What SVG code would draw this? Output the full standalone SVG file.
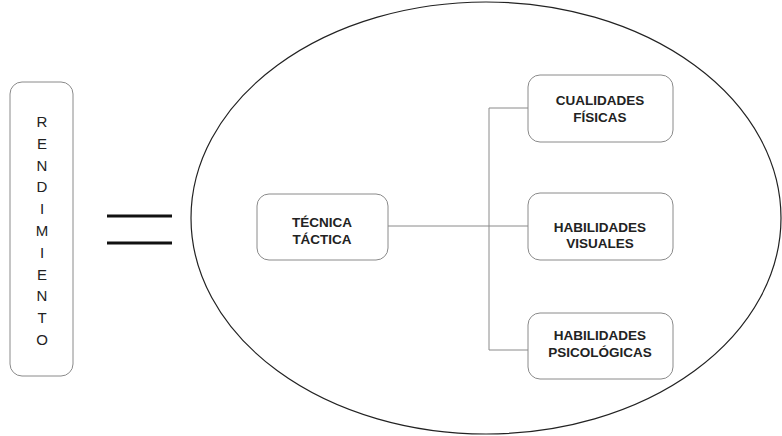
<svg xmlns="http://www.w3.org/2000/svg" width="782" height="436" viewBox="0 0 782 436">
<style>
.box{fill:#fff;stroke:#8a8a8a;stroke-width:1}
.t{font-family:"Liberation Sans",Arial,sans-serif;font-size:13.5px;font-weight:bold;fill:#222;text-anchor:middle}
.r{font-family:"Liberation Sans",Arial,sans-serif;font-size:15px;fill:#222;text-anchor:middle}
.c{fill:none;stroke:#8a8a8a;stroke-width:1}
</style>
<rect width="782" height="436" fill="#fff"/>
<g id="rendimiento">
<rect class="box" x="10" y="82" width="63" height="294" rx="12"/>
<text class="r" x="42" y="127">R</text>
<text class="r" x="42" y="149">E</text>
<text class="r" x="42" y="171">N</text>
<text class="r" x="42" y="192">D</text>
<text class="r" x="42" y="214">I</text>
<text class="r" x="42" y="236">M</text>
<text class="r" x="42" y="258">I</text>
<text class="r" x="42" y="280">E</text>
<text class="r" x="42" y="301">N</text>
<text class="r" x="42" y="323">T</text>
<text class="r" x="42" y="345">O</text>
</g>
<g id="equals">
<line x1="107" y1="216" x2="172" y2="216" stroke="#111" stroke-width="3"/>
<line x1="107" y1="243" x2="172" y2="243" stroke="#111" stroke-width="3"/>
</g>
<g id="ellipse">
<ellipse cx="486" cy="218" rx="295" ry="216" fill="none" stroke="#222" stroke-width="1.2"/>
</g>
<g id="connectors">
<line class="c" x1="388" y1="226" x2="528" y2="226"/>
<polyline class="c" points="528,108 489,108 489,350 528,350"/>
</g>
<g id="tecnica">
<rect class="box" x="257" y="194" width="131" height="66" rx="12"/>
<text class="t" x="322" y="227">TÉCNICA</text>
<text class="t" x="322" y="244">TÁCTICA</text>
</g>
<g id="cualidades">
<rect class="box" x="528" y="75" width="145" height="67" rx="12"/>
<text class="t" x="600" y="105">CUALIDADES</text>
<text class="t" x="600" y="122">FÍSICAS</text>
</g>
<g id="visuales">
<rect class="box" x="528" y="193" width="145" height="67" rx="12"/>
<text class="t" x="600" y="232">HABILIDADES</text>
<text class="t" x="600" y="248">VISUALES</text>
</g>
<g id="psicologicas">
<rect class="box" x="528" y="313" width="145" height="66" rx="12"/>
<text class="t" x="600" y="340">HABILIDADES</text>
<text class="t" x="600" y="357">PSICOLÓGICAS</text>
</g>
</svg>
